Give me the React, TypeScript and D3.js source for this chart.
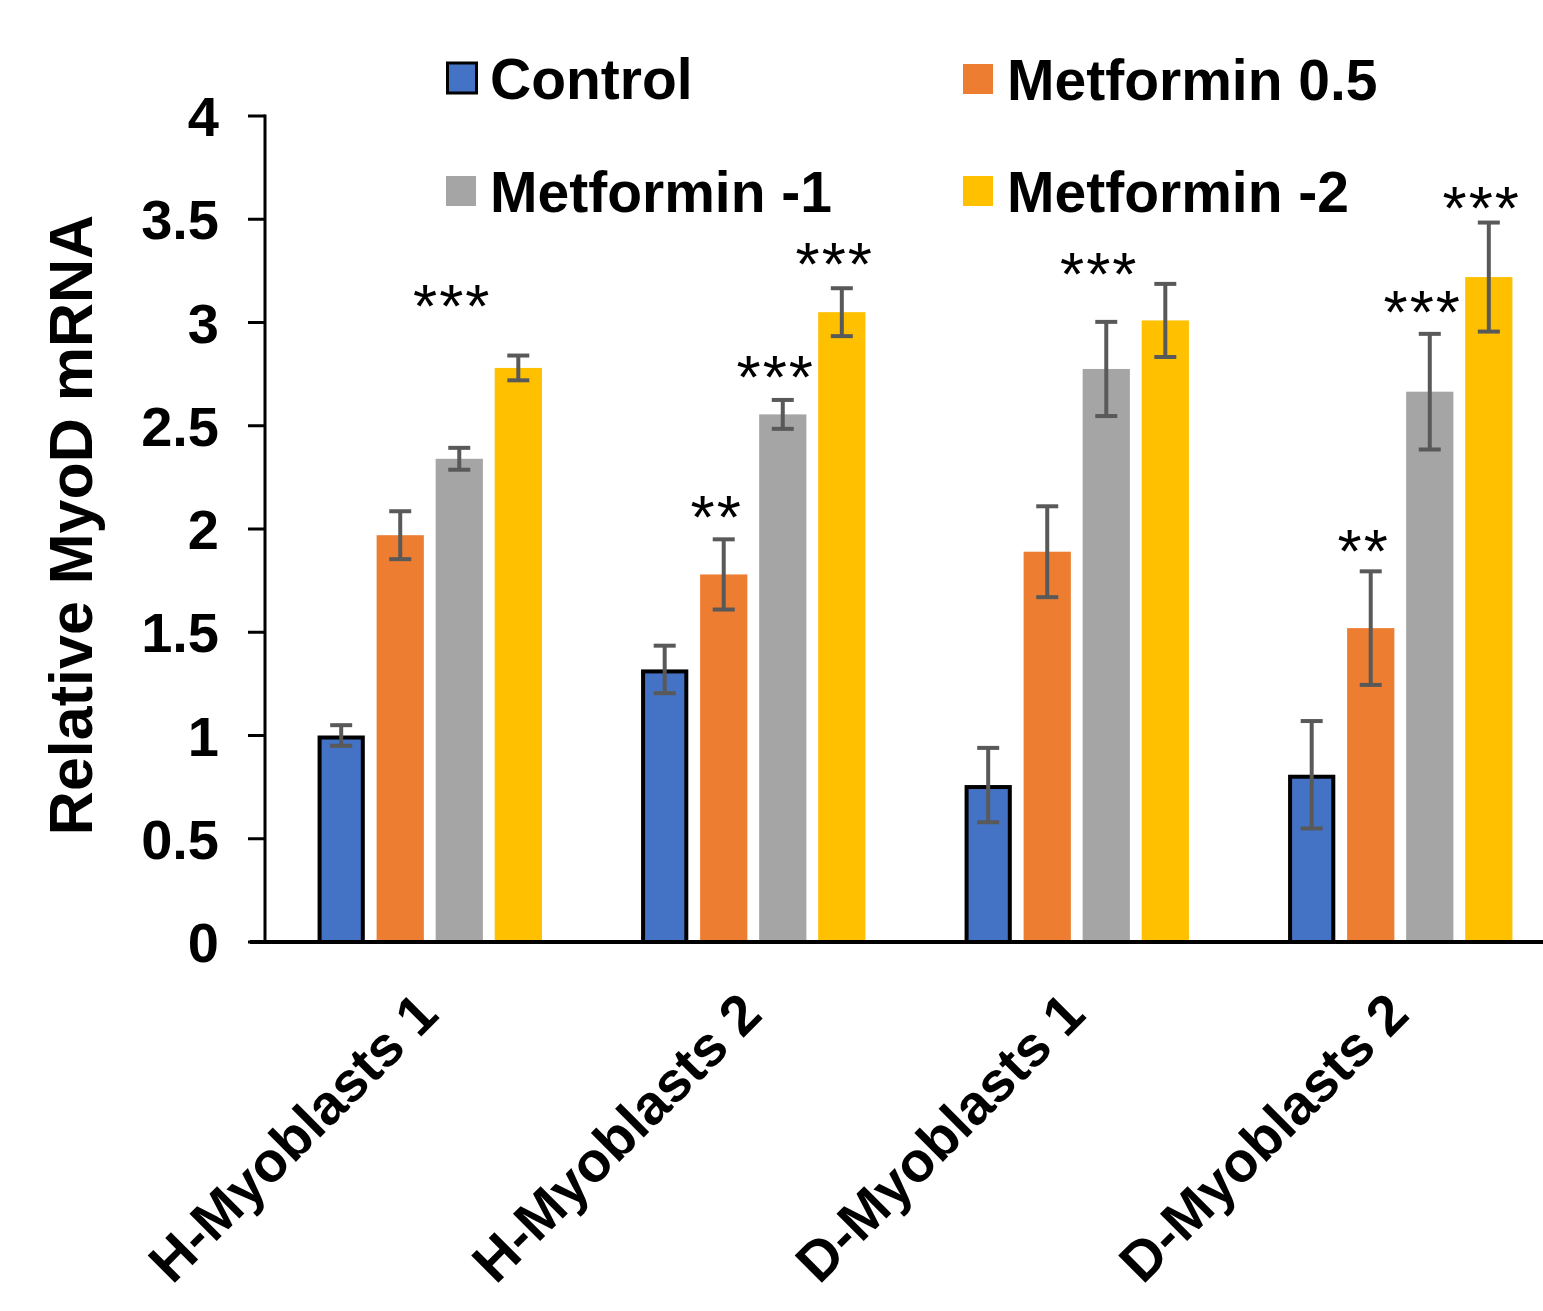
import React from "react";
import * as d3 from "d3";

const groups = ["H-Myoblasts 1", "H-Myoblasts 2", "D-Myoblasts 1", "D-Myoblasts 2"];
const seriesNames = ["Control", "Metformin 0.5", "Metformin -1", "Metformin -2"];
const seriesColors = ["#4472C4", "#ED7D31", "#A5A5A5", "#FFC000"];

const controlValues = [1.0, 1.32, 0.76, 0.81];
const controlErrors = [0.05, 0.115, 0.18, 0.26];
const met05Values = [1.97, 1.78, 1.89, 1.52];
const met05Errors = [0.116, 0.17, 0.22, 0.275];
const met1Values = [2.34, 2.555, 2.775, 2.665];
const met1Errors = [0.053, 0.07, 0.228, 0.28];
const met2Values = [2.78, 3.05, 3.01, 3.22];
const met2Errors = [0.06, 0.116, 0.177, 0.264];

const yTicks = [0, 0.5, 1, 1.5, 2, 2.5, 3, 3.5, 4];

// significance marks: group index, series index, text, vertical level (data units)
const stars = [
  { g: 0, s: 2, text: "***", level: 3.146 },
  { g: 1, s: 1, text: "**", level: 2.126 },
  { g: 1, s: 2, text: "***", level: 2.804 },
  { g: 1, s: 3, text: "***", level: 3.351 },
  { g: 2, s: 2, text: "***", level: 3.303 },
  { g: 3, s: 1, text: "**", level: 1.961 },
  { g: 3, s: 2, text: "***", level: 3.119 },
  { g: 3, s: 3, text: "***", level: 3.622 },
];

const allValues = [met05Values, met1Values, met2Values];
const allErrors = [controlErrors, met05Errors, met1Errors, met2Errors];

const width = 1543;
const height = 1311;
const font = "'Liberation Sans', Arial, sans-serif";

export default function App() {
  const y = d3.scaleLinear().domain([0, 4]).range([942, 116]);
  const x0 = d3
    .scaleBand()
    .domain(groups)
    .range([268, 1562])
    .paddingInner(0.27)
    .paddingOuter(0.135);
  const x1 = d3
    .scaleBand()
    .domain(seriesNames)
    .range([0, x0.bandwidth()])
    .paddingInner(0.2)
    .paddingOuter(0.1);

  const values = [controlValues, ...allValues];

  const bars = [];
  groups.forEach((g, gi) => {
    seriesNames.forEach((s, si) => {
      bars.push({
        g,
        s,
        gi,
        si,
        v: values[si][gi],
        e: allErrors[si][gi],
      });
    });
  });

  const legend = [
    { i: 0, x: 446, cy: 78 },
    { i: 1, x: 963, cy: 79 },
    { i: 2, x: 446, cy: 191 },
    { i: 3, x: 963, cy: 191 },
  ];

  return (
    <svg
      width={width}
      height={height}
      style={{ position: "absolute", left: 0, top: 0, background: "#fff" }}
      fontFamily={font}
    >
      {/* bars */}
      {bars.map((d) => {
        const bx = x0(d.g) + x1(d.s);
        const bw = x1.bandwidth();
        const isControl = d.si === 0;
        return (
          <rect
            key={d.g + d.s}
            x={isControl ? bx + 2 : bx}
            y={isControl ? y(d.v) + 2 : y(d.v)}
            width={isControl ? bw - 4 : bw}
            height={isControl ? y(0) - y(d.v) - 2 : y(0) - y(d.v)}
            fill={seriesColors[d.si]}
            stroke={isControl ? "#000" : "none"}
            strokeWidth={4}
          />
        );
      })}

      {/* error bars */}
      {bars.map((d) => {
        const cx = x0(d.g) + x1(d.s) + x1.bandwidth() / 2;
        const top = y(d.v + d.e);
        const bot = y(d.v - d.e);
        return (
          <g key={"e" + d.g + d.s} stroke="#595959" strokeWidth={4}>
            <line x1={cx} x2={cx} y1={top} y2={bot} />
            <line x1={cx - 11} x2={cx + 11} y1={top} y2={top} />
            <line x1={cx - 11} x2={cx + 11} y1={bot} y2={bot} />
          </g>
        );
      })}

      {/* stars */}
      {stars.map((d, i) => (
        <text
          key={"s" + i}
          x={x0(groups[d.g]) + x1(seriesNames[d.s]) + x1.bandwidth() / 2 - 7}
          y={y(d.level)}
          dy="0.56em"
          textAnchor="middle"
          fontSize={62}
          letterSpacing={2}
          fill="#000"
        >
          {d.text}
        </text>
      ))}

      {/* y axis */}
      <line x1={265} x2={265} y1={y(4) - 1.5} y2={y(0)} stroke="#000" strokeWidth={3} />
      {yTicks.map((t) => (
        <g key={"t" + t}>
          <line x1={248} x2={265} y1={y(t)} y2={y(t)} stroke="#000" strokeWidth={3} />
          <text
            x={219}
            y={y(t)}
            dy="0.36em"
            textAnchor="end"
            fontSize={56}
            fontWeight="bold"
            fill="#000"
          >
            {t}
          </text>
        </g>
      ))}

      {/* x axis */}
      <line x1={250} x2={width} y1={y(0)} y2={y(0)} stroke="#000" strokeWidth={4} />
      {groups.map((g) => {
        const cx = x0(g) + x0.bandwidth() / 2;
        return (
          <text
            key={"x" + g}
            transform={`translate(${cx + 11},${1017}) rotate(-45)`}
            textAnchor="end"
            fontSize={56}
            fontWeight="bold"
            fill="#000"
          >
            {g}
          </text>
        );
      })}

      {/* y title */}
      <text
        transform="translate(92,525) rotate(-90)"
        textAnchor="middle"
        fontSize={61}
        fontWeight="bold"
        fill="#000"
      >
        Relative MyoD mRNA
      </text>

      {/* legend */}
      {legend.map((l) => (
        <g key={"l" + l.i}>
          <rect
            x={l.i === 0 ? l.x + 1.5 : l.x}
            y={l.cy - 15}
            width={l.i === 0 ? 29 : 30}
            height={30}
            fill={seriesColors[l.i]}
            stroke={l.i === 0 ? "#000" : "none"}
            strokeWidth={3}
          />
          <text
            x={l.x + 44}
            y={l.cy}
            dy="0.36em"
            fontSize={57}
            fontWeight="bold"
            fill="#000"
          >
            {seriesNames[l.i]}
          </text>
        </g>
      ))}
    </svg>
  );
}
